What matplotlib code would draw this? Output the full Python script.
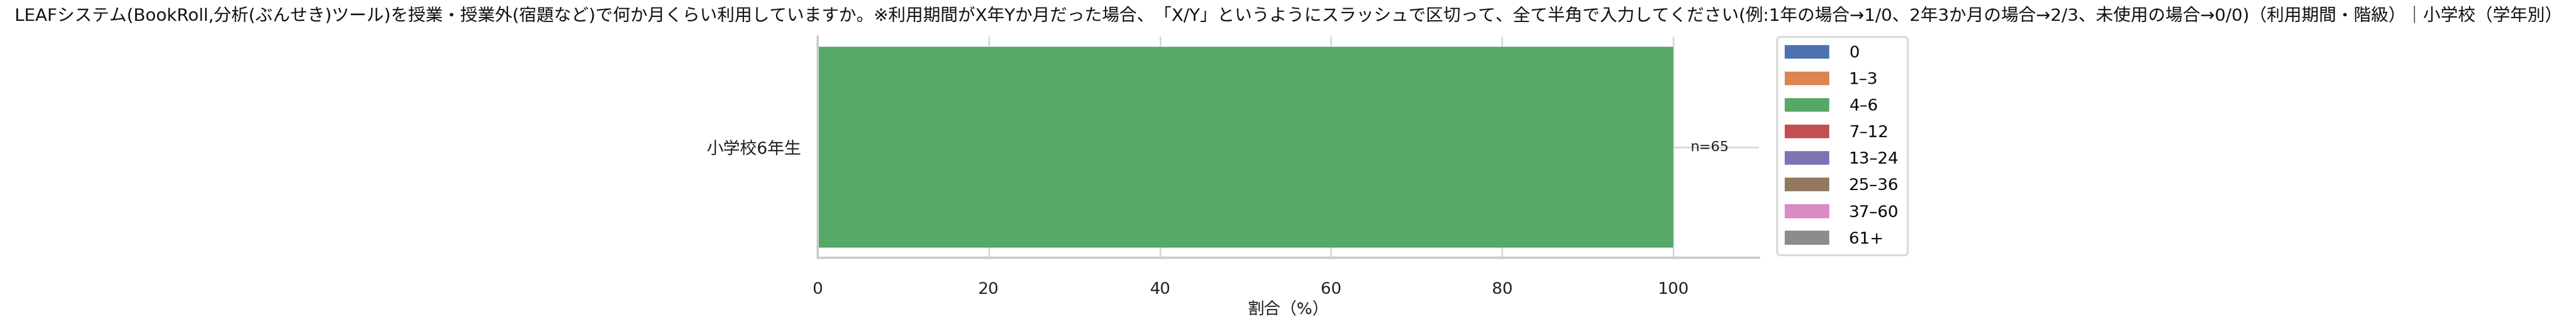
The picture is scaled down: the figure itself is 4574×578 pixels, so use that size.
import matplotlib
matplotlib.use("Agg")
import matplotlib.pyplot as plt
import numpy as np

plt.rcParams['font.family'] = ['DejaVu Sans', 'Noto Sans CJK JP']

title = ("LEAFシステム(BookRoll,分析(ぶんせき)ツール)を授業・授業外(宿題など)で何か月くらい利用していますか。"
         "※利用期間がX年Yか月だった場合、「X/Y」というようにスラッシュで区切って、全て半角で入力してください"
         "(例:1年の場合→1/0、2年3か月の場合→2/3、未使用の場合→0/0)（利用期間・階級）｜小学校（学年別）")
categories = ["小学校6年生"]
series_labels = ["0", "1–3", "4–6", "7–12", "13–24", "25–36", "37–60", "61+"]
series_values = [[0], [0], [100], [0], [0], [0], [0], [0]]
n_counts = [65]
colors = ["#4C72B0", "#DD8452", "#55A868", "#C44E52", "#8172B3", "#937860", "#DA8BC3", "#8C8C8C"]

fig = plt.figure(figsize=(45.74, 5.78), dpi=100)
ax = fig.add_axes([0.3174, 0.2093, 0.6828 - 0.3174, 0.8875 - 0.2093])

y = np.arange(len(categories))
left = np.zeros(len(categories))
for lab, vals, c in zip(series_labels, series_values, colors):
    vals = np.array(vals, dtype=float)
    ax.barh(y, vals, left=left, color=c, label=lab, height=0.8, zorder=2)
    left += vals

for yi, tot, n in zip(y, left, n_counts):
    ax.text(tot + 2, yi, f"n={n}", va="center", ha="left", fontsize=18, color="#222222", zorder=3)

ax.set_xlim(0, 110)
ax.set_yticks(y)
ax.set_yticklabels(categories, fontsize=21.5)
ax.invert_yaxis()
ax.set_xticks([0, 20, 40, 60, 80, 100])
ax.grid(True, color="#d5d5d5", linewidth=2, zorder=0)
ax.set_axisbelow(True)
for s in ["top", "right"]:
    ax.spines[s].set_visible(False)
for s in ["left", "bottom"]:
    ax.spines[s].set_color("#cccccc")
    ax.spines[s].set_linewidth(3)
ax.tick_params(axis="x", length=0, labelsize=21, colors="#222222", pad=30)
ax.tick_params(axis="y", length=0, colors="#222222", pad=21)
ax.set_xlabel("割合（%）", fontsize=21, color="#222222", labelpad=6)
ax.set_title(title, fontsize=22.2, color="#111111", pad=20)

leg = ax.legend(loc="upper left", bbox_to_anchor=(1.019, 1.0), fontsize=21, frameon=True,
                handlelength=2.7, handleheight=0.9, labelspacing=0.65, borderpad=0.5,
                handletextpad=1.2, borderaxespad=0)
leg.get_frame().set_edgecolor("#d0d0d0")
leg.get_frame().set_linewidth(2.5)

fig.savefig("out.png", dpi=100)
